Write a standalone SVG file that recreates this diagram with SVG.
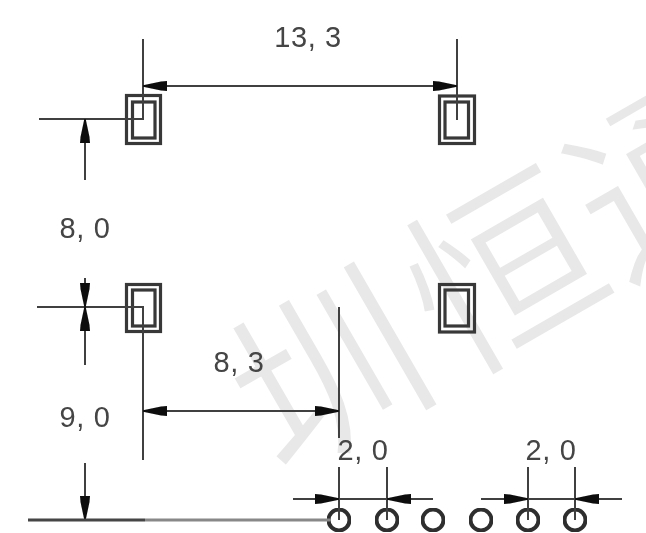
<svg xmlns="http://www.w3.org/2000/svg" width="646" height="533" viewBox="0 0 646 533">
<style>
.wm{font-family:"Noto Sans CJK SC",sans-serif;font-size:190px;fill:#e8e8e8;stroke:#fff;stroke-width:2.5}
.pad{fill:#fff;fill-opacity:0;stroke:#383838;stroke-width:3.2}
.pin{fill:none;stroke:#2e2e2e;stroke-width:4}
.l{fill:none;stroke:#404040;stroke-width:2}
.t{font-family:"Liberation Sans",Arial,sans-serif;font-size:29px;letter-spacing:.6px;fill:#444;text-anchor:middle}
.b{filter:url(#soft)}
</style>
<defs>
<filter id="soft" x="-5%" y="-5%" width="110%" height="110%"><feGaussianBlur stdDeviation="0.6"/></filter>
<marker id="a" viewBox="0 0 24 11" refX="24" refY="5.5" markerWidth="24" markerHeight="11" markerUnits="userSpaceOnUse" orient="auto-start-reverse"><path d="M0 .5L6 1L24 4.8V6.2L6 10L0 10.5Z" fill="#0c0c0c"/></marker>
</defs>
<rect width="646" height="533" fill="#fff"/>
<g id="watermark" class="b"><text class="wm" transform="translate(281 481) rotate(-30)">圳<tspan dx="12">恒</tspan>通</text></g>
<g id="pad-top-left" class="b"><rect class="pad" x="126.5" y="95.5" width="34" height="48"/><rect class="pad" x="132.5" y="102" width="22.5" height="36"/></g>
<g id="pad-top-right" class="b"><rect class="pad" x="439.5" y="96" width="35" height="47.5"/><rect class="pad" x="445" y="102" width="23.5" height="36"/></g>
<g id="pad-bottom-left" class="b"><rect class="pad" x="126.5" y="284.5" width="34" height="47"/><rect class="pad" x="132.5" y="290" width="22.5" height="36"/></g>
<g id="pad-bottom-right" class="b"><rect class="pad" x="439.5" y="284.5" width="35" height="47.5"/><rect class="pad" x="445" y="290" width="23.5" height="36"/></g>
<g id="pin-1" class="b"><circle class="pin" cx="339" cy="520" r="10.5"/></g>
<g id="pin-2" class="b"><circle class="pin" cx="387" cy="520" r="10.5"/></g>
<g id="pin-3" class="b"><circle class="pin" cx="433" cy="520" r="10.5"/></g>
<g id="pin-4" class="b"><circle class="pin" cx="481" cy="520" r="10.5"/></g>
<g id="pin-5" class="b"><circle class="pin" cx="528" cy="520" r="10.5"/></g>
<g id="pin-6" class="b"><circle class="pin" cx="575" cy="520" r="10.5"/></g>
<g id="connectors" class="b">
<path class="l" d="M143 39V119H39"/>
<path class="l" d="M457 39V120"/>
<path class="l" d="M143 86H457" marker-start="url(#a)" marker-end="url(#a)"/>
<path class="l" d="M85 180V119" marker-end="url(#a)"/>
<path class="l" d="M37 307H143V460"/>
<path class="l" d="M85 278V307" marker-end="url(#a)"/>
<path class="l" d="M85 365V307" marker-end="url(#a)"/>
<path class="l" d="M339 307V438M339 467V520"/>
<path class="l" d="M143 411H339" marker-start="url(#a)" marker-end="url(#a)"/>
<path class="l" d="M85 463V520" marker-end="url(#a)"/>
<path d="M28 520H145" fill="none" stroke="#444" stroke-width="3"/>
<path d="M145 520H330" fill="none" stroke="#888" stroke-width="3"/>
<path class="l" d="M387 467V520M528 467V520M575 467V520"/>
<path class="l" d="M293 499H339" marker-end="url(#a)"/>
<path class="l" d="M433 499H387" marker-end="url(#a)"/>
<path class="l" d="M339 499H387"/>
<path class="l" d="M481 499H528" marker-end="url(#a)"/>
<path class="l" d="M622 499H575" marker-end="url(#a)"/>
<path class="l" d="M528 499H575"/>
</g>
<g id="labels" class="b">
<text class="t" x="308" y="47">13, 3</text>
<text class="t" x="85" y="238">8, 0</text>
<text class="t" x="239" y="372">8, 3</text>
<text class="t" x="85" y="427">9, 0</text>
<text class="t" x="363" y="460">2, 0</text>
<text class="t" x="551" y="460">2, 0</text>
</g>
</svg>
